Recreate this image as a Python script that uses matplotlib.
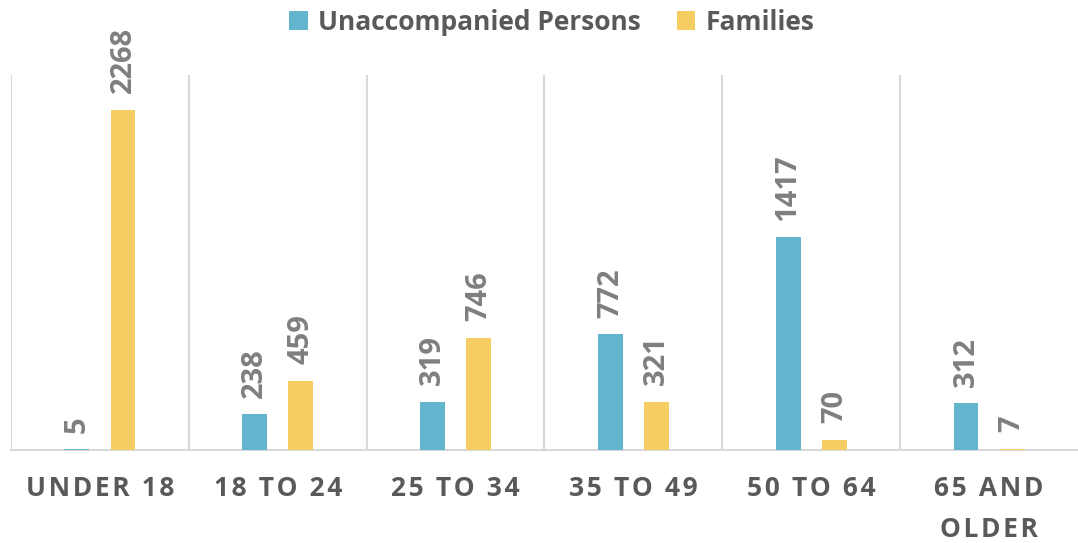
import matplotlib
matplotlib.use("Agg")
import matplotlib.pyplot as plt
import numpy as np

categories = ["UNDER 18", "18 TO 24", "25 TO 34", "35 TO 49", "50 TO 64", "65 AND\nOLDER"]
unaccompanied = [5, 238, 319, 772, 1417, 312]
families = [2268, 459, 746, 321, 70, 7]
series_names = ["Unaccompanied Persons", "Families"]

BLUE = "#62B5CD"
YELLOW = "#F5CD63"
LABEL_GRAY = "#7F7F7F"
TEXT_GRAY = "#595959"
GRID = "#D9D9D9"

plt.rcParams['font.family'] = ['Open Sans', 'DejaVu Sans']

def spaced(s):
    return "\n".join("\u200a".join(line) for line in s.split("\n"))

fig = plt.figure(figsize=(10.78, 5.43), dpi=100)
ax = fig.add_axes([11/1078, 93/543, 1 - 11/1078, 375/543])

x = np.arange(len(categories))
off = 0.13
w = 0.14
b1 = ax.bar(x - off, unaccompanied, w, color=BLUE, label=series_names[0], zorder=3)
b2 = ax.bar(x + off, families, w, color=YELLOW, label=series_names[1], zorder=3)

for bars, vals in ((b1, unaccompanied), (b2, families)):
    for rect, v in zip(bars, vals):
        ax.annotate(str(v), (rect.get_x() + rect.get_width()/2, rect.get_height()),
                    xytext=(0, 12), textcoords="offset points", rotation=90,
                    ha="center", va="bottom", fontsize=21, fontweight="bold",
                    color=LABEL_GRAY)

ax.set_xlim(-0.5, len(categories) - 0.5)
ax.set_ylim(0, 2500)
for b in np.arange(-0.5, len(categories) - 0.5, 1.0):
    ax.axvline(b, color=GRID, lw=1.5, zorder=1)

for s in ["top", "right", "left"]:
    ax.spines[s].set_visible(False)
ax.spines["bottom"].set_color(GRID)
ax.spines["bottom"].set_linewidth(1.5)
ax.set_yticks([])
ax.set_xticks(x)
ax.set_xticklabels([spaced(c) for c in categories], fontsize=19, fontweight="bold",
                   color=TEXT_GRAY, linespacing=1.65)
ax.tick_params(axis="x", length=0, pad=18)

fig.legend(handles=[b1, b2], labels=series_names, loc="upper center",
           bbox_to_anchor=(0.512, 1.028), ncol=2, frameon=False,
           prop={"size": 19, "weight": "bold"}, labelcolor=TEXT_GRAY,
           handlelength=0.7, handleheight=0.7, handletextpad=0.4, columnspacing=1.35)

fig.savefig("out.png", dpi=100)
